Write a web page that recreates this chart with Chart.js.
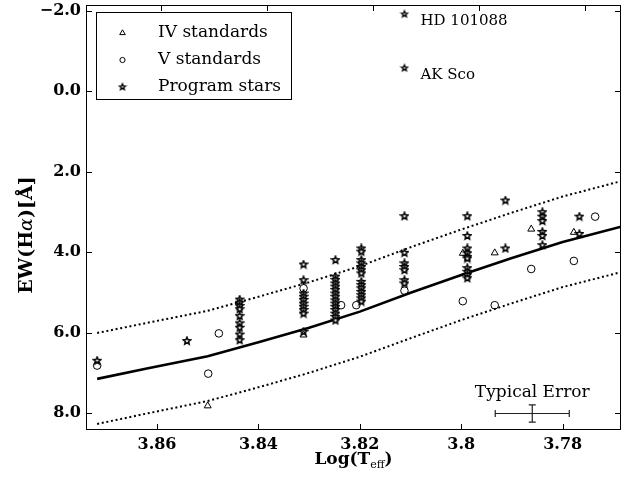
<!DOCTYPE html>
<html>
<head>
<meta charset="utf-8">
<script src="https://cdn.jsdelivr.net/npm/chart.js@4"></script>
<style>
  html, body { margin: 0; padding: 0; background: #fff; }
</style>
</head>
<body>
<canvas id="ew" width="626" height="477"></canvas>
<script>
// tick labels
const xTicks = [3.86, 3.84, 3.82, 3.80, 3.78];
const yTicks = [-2, 0, 2, 4, 6, 8];
const topTicks = [3.8592, 3.8383, 3.8174, 3.7965, 3.7756];

// IV standards (triangles)
const ivTeff = [3.8500, 3.8311, 3.7997, 3.7934, 3.7862, 3.7778];
const ivEW = [7.82, 6.06, 4.03, 4.02, 3.43, 3.51];

// V standards (circles)
const vTeff = [3.8718, 3.8499, 3.8478, 3.8311, 3.8237, 3.8207, 3.8112, 3.7997, 3.7934, 3.7862, 3.7778, 3.7736];
const vEW = [6.82, 7.02, 6.02, 4.90, 5.32, 5.32, 4.96, 5.22, 5.32, 4.42, 4.22, 3.12];

// program stars
const progTeff = [
  3.8718, 3.8541,
  3.8437, 3.8437, 3.8437, 3.8437, 3.8437, 3.8437, 3.8437, 3.8437, 3.8437,
  3.8311, 3.8311, 3.8311, 3.8311, 3.8311, 3.8311, 3.8311, 3.8311, 3.8311, 3.8311,
  3.8248, 3.8248, 3.8248, 3.8248, 3.8248, 3.8248, 3.8248, 3.8248, 3.8248, 3.8248, 3.8248, 3.8248, 3.8248, 3.8248, 3.8248,
  3.8197, 3.8197, 3.8197, 3.8197, 3.8197, 3.8197, 3.8197, 3.8197, 3.8197, 3.8197, 3.8197, 3.8197, 3.8197, 3.8197,
  3.8112, 3.8112, 3.8112, 3.8112, 3.8112, 3.8112, 3.8112,
  3.7988, 3.7988, 3.7988, 3.7988, 3.7988, 3.7988, 3.7988, 3.7988, 3.7988, 3.7988,
  3.7913, 3.7913,
  3.7840, 3.7840, 3.7840, 3.7840, 3.7840, 3.7840,
  3.7767, 3.7767
];
const progEW = [
  6.70, 6.21,
  5.18, 5.26, 5.34, 5.42, 5.59, 5.77, 5.88, 6.05, 6.19,
  4.31, 4.70, 5.03, 5.11, 5.19, 5.28, 5.36, 5.44, 5.53, 5.98,
  4.20, 4.61, 4.69, 4.78, 4.86, 4.94, 5.03, 5.11, 5.20, 5.28, 5.36, 5.44, 5.53, 5.61, 5.70,
  3.91, 3.99, 4.20, 4.28, 4.37, 4.45, 4.53, 4.74, 4.82, 4.90, 4.99, 5.07, 5.15, 5.23,
  3.11, 4.02, 4.28, 4.37, 4.45, 4.70, 4.78,
  3.11, 3.60, 3.91, 4.03, 4.12, 4.16, 4.40, 4.49, 4.57, 4.65,
  2.72, 3.91,
  3.01, 3.12, 3.23, 3.50, 3.60, 3.83,
  3.12, 3.55
];

// labelled stars
const namedStars = ['HD 101088', 'AK Sco'];
const namedTeff = [3.8112, 3.8112];
const namedEW = [-1.91, -0.57];

// calibration curve and its envelope
const fitTeff = [3.8718, 3.862, 3.850, 3.840, 3.830, 3.820, 3.810, 3.800, 3.790, 3.780, 3.7685];
const fitEW = [7.15, 6.89, 6.59, 6.24, 5.88, 5.48, 5.01, 4.57, 4.15, 3.75, 3.37];
const upperEW = [6.01, 5.76, 5.46, 5.11, 4.75, 4.35, 3.88, 3.44, 3.02, 2.62, 2.24];
const lowerEW = [8.27, 8.01, 7.70, 7.36, 7.00, 6.60, 6.14, 5.69, 5.27, 4.87, 4.50];

// typical error
const errTeff = 3.786;
const errEW = 8.01;
const errX = 0.0073;
const errY = 0.215;

const serif = '"DejaVu Serif", "Liberation Serif", serif';

function pairs(xs, ys) {
    return xs.map((x, i) => ({x: x, y: ys[i]}));
}

function starMarker(r, lw) {
    const c = document.createElement('canvas');
    const s = 2 * Math.ceil(r + 1);
    c.width = s;
    c.height = s;
    const g = c.getContext('2d');
    g.translate(s / 2, s / 2);
    g.beginPath();
    for (let i = 0; i < 10; i++) {
        const rad = i % 2 ? r * 0.45 : r;
        const a = -Math.PI / 2 + i * Math.PI / 5;
        g.lineTo(rad * Math.cos(a), rad * Math.sin(a));
    }
    g.closePath();
    g.fillStyle = '#fff';
    g.fill();
    g.strokeStyle = '#000';
    g.lineWidth = lw;
    g.lineJoin = 'miter';
    g.stroke();
    return c;
}

const star = starMarker(3.8, 1.5);
const smallStar = starMarker(3.1, 1.4);

function drawTriangle(ctx, x, y, r) {
    ctx.beginPath();
    ctx.moveTo(x, y - r);
    ctx.lineTo(x + r * 0.87, y + r * 0.5);
    ctx.lineTo(x - r * 0.87, y + r * 0.5);
    ctx.closePath();
    ctx.stroke();
}

const overlay = {
    id: 'overlay',
    afterDraw(chart) {
        const ctx = chart.ctx;
        const a = chart.chartArea;
        const xs = chart.scales.x;
        const ys = chart.scales.y;
        ctx.save();

        // frame and inward ticks
        ctx.strokeStyle = '#000';
        ctx.lineWidth = 1;
        ctx.strokeRect(a.left + 0.5, a.top + 0.5, a.right - a.left - 1, a.bottom - a.top - 1);
        const tl = 6;
        ctx.beginPath();
        for (const v of xTicks) {
            const px = Math.round(xs.getPixelForValue(v)) + 0.5;
            ctx.moveTo(px, a.bottom);
            ctx.lineTo(px, a.bottom - tl);
        }
        for (const v of topTicks) {
            const px = Math.round(xs.getPixelForValue(v)) + 0.5;
            ctx.moveTo(px, a.top);
            ctx.lineTo(px, a.top + tl);
        }
        for (const v of yTicks) {
            const py = Math.round(ys.getPixelForValue(v)) + 0.5;
            ctx.moveTo(a.left, py);
            ctx.lineTo(a.left + tl, py);
            ctx.moveTo(a.right, py);
            ctx.lineTo(a.right - tl, py);
        }
        ctx.stroke();

        // axis titles
        ctx.fillStyle = '#000';
        ctx.textBaseline = 'middle';
        const big = 'bold 17px ' + serif;
        const sub = '11px ' + serif;
        ctx.font = big;
        const w1 = ctx.measureText('Log(T').width;
        const w3 = ctx.measureText(')').width;
        ctx.font = sub;
        const w2 = ctx.measureText('eff').width;
        let tx = (a.left + a.right) / 2 - (w1 + w2 + w3) / 2;
        const ty = 460;
        ctx.textAlign = 'left';
        ctx.font = big;
        ctx.fillText('Log(T', tx, ty);
        ctx.font = sub;
        ctx.fillText('eff', tx + w1, ty + 5);
        ctx.font = big;
        ctx.fillText(')', tx + w1 + w2, ty);

        ctx.save();
        ctx.translate(27, 235);
        ctx.rotate(-Math.PI / 2);
        const parts = [['EW(H', 'bold 19px ' + serif], ['\u03b1', 'italic 19px ' + serif], [')[\u00c5]', 'bold 19px ' + serif]];
        let total = 0;
        for (const p of parts) { ctx.font = p[1]; total += ctx.measureText(p[0]).width; }
        let px = -total / 2;
        for (const p of parts) {
            ctx.font = p[1];
            ctx.fillText(p[0], px, 0);
            px += ctx.measureText(p[0]).width;
        }
        ctx.restore();

        // legend box
        ctx.lineWidth = 1;
        ctx.strokeRect(96.5, 12.5, 195, 87);
        const rows = [['IV standards', 33], ['V standards', 60], ['Program stars', 87]];
        ctx.font = '17px ' + serif;
        for (const r of rows) {
            ctx.fillText(r[0], 158, r[1]);
        }
        drawTriangle(ctx, 122.5, 33, 3.2);
        ctx.beginPath();
        ctx.arc(122.5, 60, 2.6, 0, 2 * Math.PI);
        ctx.stroke();
        ctx.drawImage(smallStar, 122.5 - smallStar.width / 2, 87 - smallStar.height / 2);

        // star names
        ctx.font = '15px ' + serif;
        namedStars.forEach((name, i) => {
            const sx = xs.getPixelForValue(namedTeff[i]);
            const sy = ys.getPixelForValue(namedEW[i]);
            ctx.fillText(name, sx + 16, sy + 7);
        });

        // typical error bar
        const cx = xs.getPixelForValue(errTeff);
        const cy = ys.getPixelForValue(errEW);
        const x0 = xs.getPixelForValue(errTeff + errX);
        const x1 = xs.getPixelForValue(errTeff - errX);
        const y0 = ys.getPixelForValue(errEW - errY);
        const y1 = ys.getPixelForValue(errEW + errY);
        ctx.strokeStyle = '#222';
        ctx.lineWidth = 1.2;
        ctx.beginPath();
        ctx.moveTo(x0, cy); ctx.lineTo(x1, cy);
        ctx.moveTo(x0, cy - 3.5); ctx.lineTo(x0, cy + 3.5);
        ctx.moveTo(x1, cy - 3.5); ctx.lineTo(x1, cy + 3.5);
        ctx.moveTo(cx, y0); ctx.lineTo(cx, y1);
        ctx.moveTo(cx - 3.5, y0); ctx.lineTo(cx + 3.5, y0);
        ctx.moveTo(cx - 3.5, y1); ctx.lineTo(cx + 3.5, y1);
        ctx.stroke();
        ctx.textAlign = 'center';
        ctx.font = '17px ' + serif;
        ctx.fillText('Typical Error', cx, cy - 21);

        ctx.restore();
    }
};

const tickFont = {family: serif, weight: 'bold', size: 16};

new Chart(document.getElementById('ew'), {
    type: 'scatter',
    data: {
        datasets: [
            {
                label: 'IV standards',
                data: pairs(ivTeff, ivEW),
                pointStyle: 'triangle',
                pointRadius: 4,
                borderColor: '#000',
                backgroundColor: 'rgba(0,0,0,0)',
                borderWidth: 1
            },
            {
                label: 'V standards',
                data: pairs(vTeff, vEW),
                pointStyle: 'circle',
                pointRadius: 3.8,
                borderColor: '#000',
                backgroundColor: 'rgba(0,0,0,0)',
                borderWidth: 1
            },
            {
                label: 'Program stars',
                data: pairs(progTeff, progEW),
                pointStyle: star
            },
            {
                label: 'Named stars',
                data: pairs(namedTeff, namedEW),
                pointStyle: smallStar
            },
            {
                label: 'Fit',
                data: pairs(fitTeff, fitEW),
                showLine: true,
                pointRadius: 0,
                borderColor: '#000',
                borderWidth: 2.6
            },
            {
                label: 'Upper',
                data: pairs(fitTeff, upperEW),
                showLine: true,
                pointRadius: 0,
                borderColor: '#000',
                borderWidth: 2,
                borderDash: [2, 2.7]
            },
            {
                label: 'Lower',
                data: pairs(fitTeff, lowerEW),
                showLine: true,
                pointRadius: 0,
                borderColor: '#000',
                borderWidth: 2,
                borderDash: [2, 2.7]
            }
        ]
    },
    options: {
        responsive: false,
        animation: false,
        events: [],
        layout: {padding: {top: 5, right: 1, left: 0, bottom: 0}},
        plugins: {legend: {display: false}, tooltip: {enabled: false}},
        scales: {
            x: {
                type: 'linear',
                reverse: true,
                min: 3.7685,
                max: 3.874,
                grid: {display: false, drawTicks: false},
                border: {display: false},
                ticks: {
                    font: tickFont,
                    color: '#000',
                    padding: 5,
                    callback: v => String(Number(v.toFixed(2)))
                },
                afterBuildTicks: s => { s.ticks = xTicks.map(v => ({value: v})); },
                afterFit: s => { s.height = 47; s.paddingLeft = 0; s.paddingRight = 0; }
            },
            y: {
                type: 'linear',
                reverse: true,
                min: -2.137,
                max: 8.42,
                grid: {display: false, drawTicks: false},
                border: {display: false},
                ticks: {
                    font: tickFont,
                    color: '#000',
                    padding: 5,
                    callback: v => v.toFixed(1).replace('-', '\u2212')
                },
                afterBuildTicks: s => { s.ticks = yTicks.map(v => ({value: v})); },
                afterFit: s => { s.width = 86; s.paddingTop = 0; s.paddingBottom = 0; }
            }
        }
    },
    plugins: [overlay]
});
</script>
</body>
</html>
